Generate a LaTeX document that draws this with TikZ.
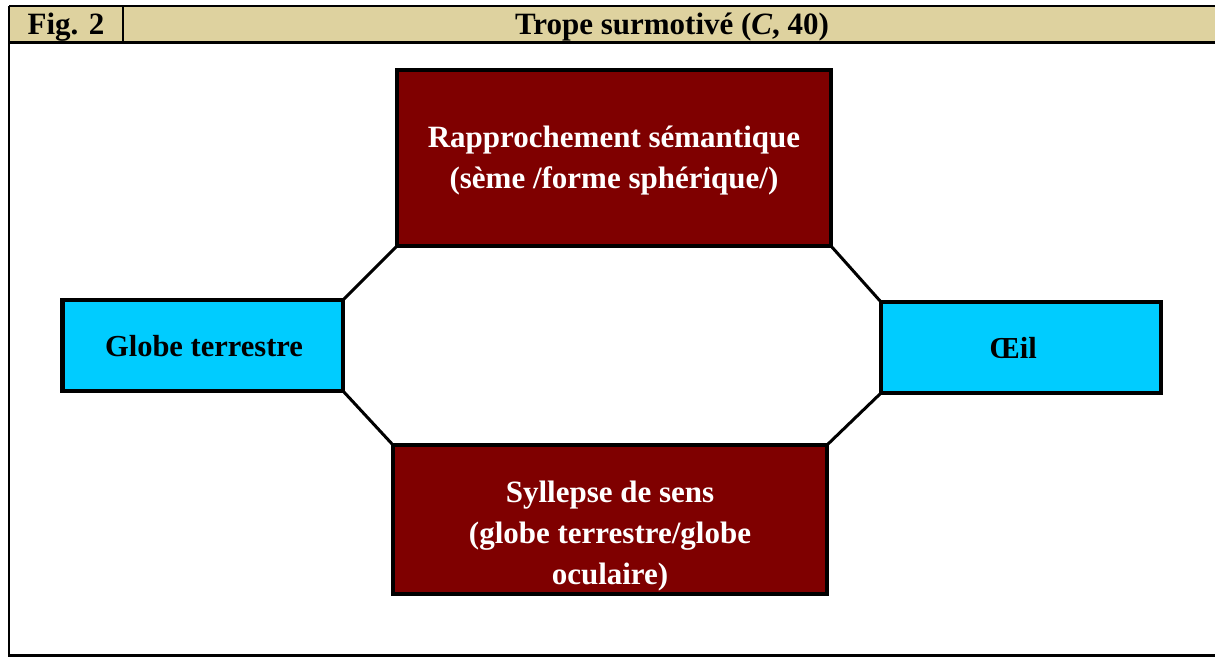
\documentclass[tikz,border=0pt]{standalone}
\usepackage{fontspec}
\setmainfont{Liberation Serif}
\definecolor{headtan}{RGB}{222,210,159}
\definecolor{darkred}{RGB}{127,0,0}
\definecolor{cyanbox}{RGB}{0,204,255}
\tikzset{
  box/.style={draw=black, line width=4.5pt, outer sep=0pt, inner sep=0pt},
  redbox/.style={box, fill=darkred},
  bluebox/.style={box, fill=cyanbox},
  link/.style={draw=black, line width=3pt},
  frameline/.style={draw=black, line width=2.5pt},
  whitetxt/.style={text=white, font=\bfseries\fontsize{31}{41}\selectfont, align=center, inner sep=0pt},
  blacktxt/.style={text=black, font=\bfseries\fontsize{30.5}{41}\selectfont, align=center, inner sep=0pt},
  headtxt/.style={text=black, font=\bfseries\fontsize{31}{34}\selectfont, inner sep=0pt, anchor=base}
}
\begin{document}
\begin{tikzpicture}[x=1pt,y=-1pt]
\useasboundingbox (0,0) rectangle (1215,657);
% header
\fill[headtan] (9,6) rectangle (1215,42.5);
\draw[frameline] (9,6) -- (1216,6);
\draw[frameline] (9,42.5) -- (1216,42.5);
\draw[frameline] (9,6) -- (9,655.5) -- (1216,655.5);
\draw[frameline] (123,6) -- (123,42.5);
\node[headtxt] (fig) at (66,34) {Fig. 2};
\node[headtxt] (title) at (672,34) {Trope surmotivé (\textit{C}, 40)};
% boxes
\node[redbox, minimum width=434pt, minimum height=176pt] (top) at (614,158) {};
\node[redbox, minimum width=434pt, minimum height=149pt] (bot) at (610,519.5) {};
\node[bluebox, minimum width=280.5pt, minimum height=91pt] (left) at (202.75,345.5) {};
\node[bluebox, minimum width=280pt, minimum height=91pt] (right) at (1021,347.5) {};
% texts
\node[whitetxt] (toptxt) at (614,161) {Rapprochement sémantique\\(sème /forme sphérique/)};
\node[whitetxt] (bottxt) at (610,536) {Syllepse de sens\\(globe terrestre/globe\\oculaire)};
\node[blacktxt] (lefttxt) at (204,346) {Globe terrestre};
\node[blacktxt] (righttxt) at (1013,348) {Œil};
% connectors
\draw[link] (left.north east) -- (top.south west);
\draw[link] (left.south east) -- (bot.north west);
\draw[link] (top.south east) -- (right.north west);
\draw[link] (bot.north east) -- (right.south west);
\end{tikzpicture}
\end{document}
